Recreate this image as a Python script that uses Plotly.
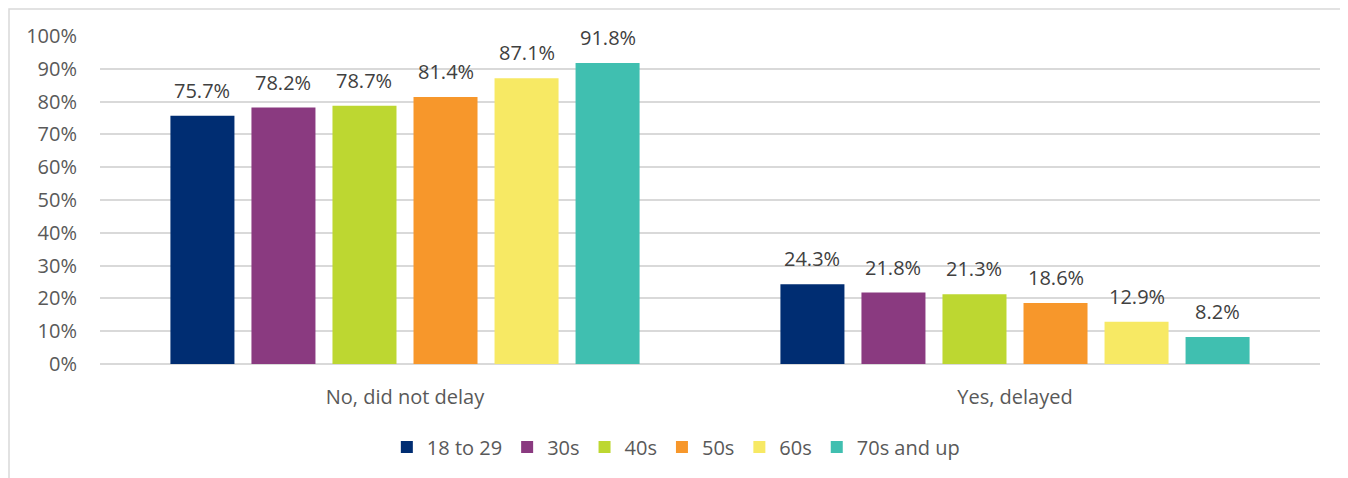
import plotly.graph_objects as go

categories = ["No, did not delay", "Yes, delayed"]
series_names = ["18 to 29", "30s", "40s", "50s", "60s", "70s and up"]
values_18_29 = [75.7, 24.3]
values_30s = [78.2, 21.8]
values_40s = [78.7, 21.3]
values_50s = [81.4, 18.6]
values_60s = [87.1, 12.9]
values_70s = [91.8, 8.2]
tick_vals = [0, 10, 20, 30, 40, 50, 60, 70, 80, 90, 100]
tick_text = ["0%", "10%", "20%", "30%", "40%", "50%", "60%", "70%", "80%", "90%", "100%"]

colors = ["#002D72", "#8A3A80", "#BDD731", "#F7972B", "#F7E964", "#40BFB0"]
all_values = [values_18_29, values_30s, values_40s, values_50s, values_60s, values_70s]

FONT = "Open Sans, sans-serif"
FS = 20

# figure is offset by the page's 8px body margin
W, H = 1340, 470
L, R, T, B = 92, 28, 28, 114
pw = W - L - R
ph = H - T - B
BARGAP = 0.203
BARGROUPGAP = 0.21

fig = go.Figure()
for name, vals, col in zip(series_names, all_values, colors):
    fig.add_trace(go.Bar(
        x=categories, y=vals, name=name,
        marker=dict(color=col, line=dict(width=0)),
        hoverinfo="x+y+name",
    ))

# data labels as annotations, shifted onto each bar of the group
slot = (pw / len(categories)) * (1 - BARGAP) / len(series_names)
annotations = []
n = len(series_names)
for i, vals in enumerate(all_values):
    for cat, v in zip(categories, vals):
        annotations.append(dict(
            x=cat, y=v, xref="x", yref="y", text=f"{v:.1f}%",
            showarrow=False, yanchor="bottom", xanchor="center",
            xshift=(i - (n - 1) / 2) * slot, yshift=10,
            font=dict(family=FONT, size=FS, color="#404040"),
        ))

def px_to_paper_x(px):
    return (px - L) / pw

def px_to_paper_y(py):
    return (H - B - py) / ph

fig.update_layout(
    width=W, height=H,
    margin=dict(l=L, r=R, t=T, b=B),
    paper_bgcolor="white", plot_bgcolor="white",
    barmode="group", bargap=BARGAP, bargroupgap=BARGROUPGAP,
    font=dict(family=FONT, size=FS, color="#595959"),
    showlegend=True,
    legend=dict(orientation="h", x=0.472, xanchor="center", y=px_to_paper_y(439), yanchor="middle",
                font=dict(family=FONT, size=FS, color="#595959"), traceorder="normal",
                itemwidth=30, tracegroupgap=0),
    xaxis=dict(showline=False, ticks="", tickfont=dict(size=FS, color="#595959"), ticklabelstandoff=19),
    yaxis=dict(range=[0, 100], tickvals=tick_vals, ticktext=tick_text,
               showgrid=True, gridcolor="#D9D9D9", gridwidth=1.5, zeroline=True,
               zerolinecolor="#D9D9D9", zerolinewidth=1.5, ticks="",
               tickfont=dict(size=FS, color="#595959"), ticklabelstandoff=22),
    annotations=annotations,
    shapes=[dict(type="rect", xref="paper", yref="paper",
                 x0=px_to_paper_x(1), x1=px_to_paper_x(1360),
                 y0=px_to_paper_y(490), y1=px_to_paper_y(1),
                 line=dict(color="#D9D9D9", width=1.5), fillcolor="rgba(0,0,0,0)", layer="below")],
)

fig.write_html("out.html")
